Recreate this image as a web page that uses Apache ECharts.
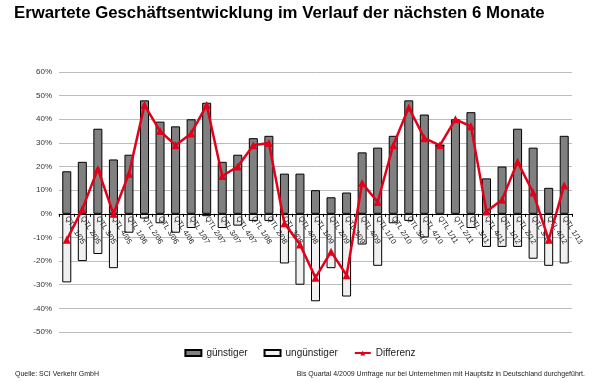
<!DOCTYPE html>
<html>
<head>
<meta charset="utf-8">
<script src="https://cdn.jsdelivr.net/npm/echarts@6/dist/echarts.min.js"></script>
<style>html,body{margin:0;padding:0;background:#fff}#c{width:600px;height:382px}</style>
</head>
<body>
<div id="c"></div>
<script>
const categories = ['QTL 1/05','QTL 2/05','QTL 3/05','QTL 4/05','QTL 1/06','QTL 2/06','QTL 3/06','QTL 4/06','QTL 1/07','QTL 2/07','QTL 3/07','QTL 4/07','QTL 1/08','QTL 2/08','QTL 3/08','QTL 4/08','QTL 1/09','QTL 2/09','QTL 3/09','QTL 4/09','QTL 1/10','QTL 2/10','QTL 3/10','QTL 4/10','QTL 1/11','QTL 2/11','QTL 3/11','QTL 4/11','QTL 1/12','QTL 2/12','QTL 3/12','QTL 4/12','QTL 1/13'];
const guenstiger = [18,22,36,23,25,48,39,37,40,47,22,25,32,33,17,17,10,7,9,26,28,33,48,42,29,40,43,15,20,36,28,11,33];
const unguenstiger = [-29,-20,-17,-23,-8,-2,-4,-8,-6,-1,-6,-5,-3,-3,-21,-30,-37,-23,-35,-13,-22,-4,-3,-10,0,-0.5,-6,-14,-14,-14,-19,-22,-21];
const differenz = [-11,2,19,0,17,46,35,29,34,46,16,20,29,30,-4,-13,-27,-16,-26,13,5,29,45,32,29,40,37,1,6,22,9,-11,12];
const yTicks = {min:-50, max:60, interval:10};

const gridTop = 72, gridBottom = 50, chartH = 382;
const plotH = chartH - gridTop - gridBottom;
// distance of the zero line above the grid bottom, from the y range
const zeroOffset = plotH * (0 - yTicks.min) / (yTicks.max - yTicks.min);

const chart = echarts.init(document.getElementById('c'), null, {renderer:'canvas'});
chart.setOption({
  animation:false,
  backgroundColor:'#fff',
  textStyle:{fontFamily:'Liberation Sans, Arial, sans-serif'},
  title:[
    {text:'Erwartete Geschäftsentwicklung im Verlauf der nächsten 6 Monate', left:9, top:0,
     textStyle:{fontSize:16.8, fontWeight:'bold', color:'#000', fontFamily:'Liberation Sans, Arial, sans-serif'}},
    {text:'Quelle: SCI Verkehr GmbH', left:10, top:366,
     textStyle:{fontSize:7, fontWeight:'normal', color:'#222', fontFamily:'Liberation Sans, Arial, sans-serif'}},
    {text:'Bis Quartal 4/2009 Umfrage nur bei Unternehmen mit Hauptsitz in Deutschland durchgeführt.', right:10, top:366,
     textStyle:{fontSize:7, fontWeight:'normal', color:'#222', fontFamily:'Liberation Sans, Arial, sans-serif'}}
  ],
  legend:{
    top:343, left:'center', itemWidth:16, itemHeight:6, itemGap:16,
    textStyle:{fontSize:10, color:'#222'},
    data:[{name:'günstiger', icon:'rect'},{name:'ungünstiger', icon:'rect'},{name:'Differenz'}]
  },
  grid:{left:59, right:28, top:gridTop, bottom:gridBottom, containLabel:false},
  xAxis:{
    type:'category', data:categories, z:3, position:'bottom', offset:-zeroOffset,
    axisLine:{onZero:false, lineStyle:{color:'#000', width:1}},
    axisTick:{show:true, length:3, lineStyle:{color:'#000'}},
    axisLabel:{interval:0, rotate:-58, fontSize:7.5, color:'#222', margin:3},
    splitLine:{show:false}
  },
  yAxis:{
    type:'value', min:yTicks.min, max:yTicks.max, interval:yTicks.interval,
    axisLine:{show:false}, axisTick:{show:false},
    axisLabel:{formatter:'{value}%', fontSize:8, color:'#333', margin:7},
    splitLine:{lineStyle:{color:'#bdbdbd', width:1}}
  },
  series:[
    {name:'günstiger', type:'bar', stack:'s', data:guenstiger, barWidth:9, z:2,
     itemStyle:{color:'#808080', borderColor:'#000', borderWidth:1}},
    {name:'ungünstiger', type:'bar', stack:'s', data:unguenstiger, barWidth:9, z:2,
     itemStyle:{color:'#f0f0f0', borderColor:'#000', borderWidth:1}},
    {name:'Differenz', type:'line', data:differenz, z:5,
     symbol:'triangle', symbolSize:8,
     lineStyle:{color:'#e2001a', width:2.5},
     itemStyle:{color:'#e2001a'}}
  ]
});
</script>
</body>
</html>
